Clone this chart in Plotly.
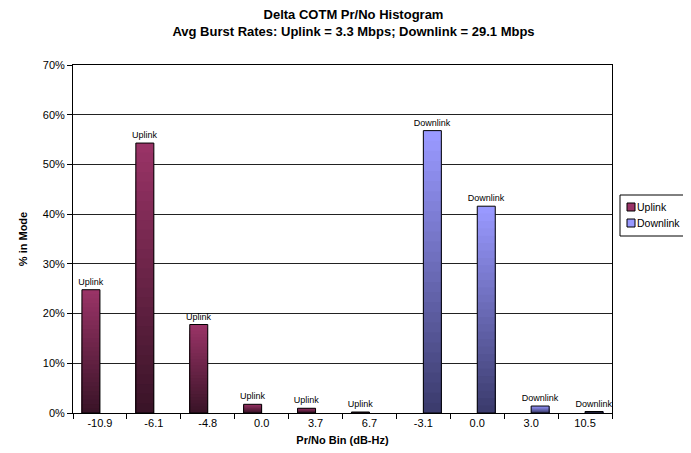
import plotly.graph_objects as go

# ---- data ----
bin_labels = ["-10.9", "-6.1", "-4.8", "0.0", "3.7", "6.7", "-3.1", "0.0", "3.0", "10.5"]
uplink_pct = [24.8, 54.3, 17.8, 1.75, 0.95, 0.2]
downlink_pct = [56.8, 41.6, 1.4, 0.3]
series_names = ["Uplink", "Downlink"]
series_colors = [("#993366", "#3a1428"), ("#9999ff", "#3c3c6e")]

uplink_x = list(range(len(uplink_pct)))
downlink_x = list(range(len(uplink_pct), len(uplink_pct) + len(downlink_pct)))

FONT = "Liberation Sans, Arial, sans-serif"
N_LAYERS = 28
BAR_W = 0.334

# plot area in pixels (for the hand-drawn legend box)
PL, PR, PT, PB = 65, 604, 57, 405


def px_x(px):
    return (px - PL) / (PR - PL)


def px_y(py):
    return (PB - py) / (PB - PT)


def hex2rgb(h):
    h = h.lstrip("#")
    return tuple(int(h[i:i + 2], 16) for i in (0, 2, 4))


def mix(c1, c2, t):
    a, b = hex2rgb(c1), hex2rgb(c2)
    return "rgb(%d,%d,%d)" % tuple(round(a[i] + (b[i] - a[i]) * t) for i in range(3))


fig = go.Figure()


def add_series(name, xs, vals, top_col, bot_col, offset):
    # gradient layers (top colour on the full-height layer, darker toward the bottom)
    for k in range(N_LAYERS):
        frac = (N_LAYERS - k) / N_LAYERS
        t = k / (N_LAYERS - 1)
        fig.add_trace(go.Bar(
            x=xs, y=[v * frac for v in vals],
            width=BAR_W, offset=offset,
            marker=dict(color=mix(top_col, bot_col, t), line=dict(width=0)),
            name=name, showlegend=False, hoverinfo="skip",
        ))
    # outline + label
    fig.add_trace(go.Bar(
        x=xs, y=vals, width=BAR_W, offset=offset,
        marker=dict(color="rgba(0,0,0,0)", line=dict(color="black", width=1)),
        text=[name] * len(vals), textposition="outside", constraintext="none",
        textfont=dict(size=9, color="black", family=FONT),
        outsidetextfont=dict(size=9, color="black", family=FONT),
        cliponaxis=False, showlegend=False, name=name,
    ))


add_series(series_names[0], uplink_x, uplink_pct, *series_colors[0], -BAR_W)
add_series(series_names[1], downlink_x, downlink_pct, *series_colors[1], 0)

# legend box drawn as shapes + annotations
shapes = [dict(type="rect", xref="paper", yref="paper",
               x0=px_x(612), x1=px_x(678), y0=px_y(228), y1=px_y(187),
               line=dict(color="black", width=1), fillcolor="white")]
annotations = []
for i, (nm, (top, _)) in enumerate(zip(series_names, series_colors)):
    cy = 199 + 16 * i
    shapes.append(dict(type="rect", xref="paper", yref="paper",
                       x0=px_x(619), x1=px_x(627), y0=px_y(cy + 4), y1=px_y(cy - 4),
                       line=dict(color="black", width=1), fillcolor=top))
    annotations.append(dict(xref="paper", yref="paper", x=px_x(627), y=px_y(cy),
                            xanchor="left", yanchor="middle", showarrow=False,
                            text=nm, font=dict(size=10.5, family=FONT, color="black")))

n = len(bin_labels)
fig.update_layout(
    width=691, height=453,
    barmode="overlay",
    showlegend=False,
    paper_bgcolor="white", plot_bgcolor="white",
    font=dict(family=FONT, size=11, color="black"),
    margin=dict(l=PL, r=691 - PR, t=PT, b=453 - PB, autoexpand=False),
    title=dict(
        text="<b>Delta COTM Pr/No Histogram</b><br><b>Avg Burst Rates: Uplink = 3.3 Mbps; Downlink = 29.1 Mbps</b>",
        x=0.5, xanchor="center", xref="container",
        y=0.975, yanchor="top", yref="container",
        font=dict(size=13, family=FONT, color="black"),
    ),
    shapes=shapes,
    annotations=annotations,
    xaxis=dict(
        range=[-0.5, n - 0.5],
        tickmode="array", tickvals=list(range(n)), ticktext=bin_labels,
        ticks="", showgrid=False,
        showline=True, linecolor="black", linewidth=1, mirror=True,
        minor=dict(tickmode="array", tickvals=[i - 0.5 for i in range(n + 1)],
                   ticks="outside", ticklen=5, tickcolor="black", showgrid=False),
        title=dict(text="<b>Pr/No Bin (dB-Hz)</b>", font=dict(size=11), standoff=8),
        tickfont=dict(size=11),
        zeroline=False,
    ),
    yaxis=dict(
        range=[0, 70], dtick=10, ticksuffix="%",
        ticks="outside", ticklen=5, tickcolor="black",
        showgrid=True, gridcolor="#222", gridwidth=1,
        showline=True, linecolor="black", linewidth=1, mirror=True,
        zeroline=False,
        title=dict(text="<b>% in Mode</b>", font=dict(size=11), standoff=12),
        tickfont=dict(size=11),
    ),
)

fig.write_html("out.html")
